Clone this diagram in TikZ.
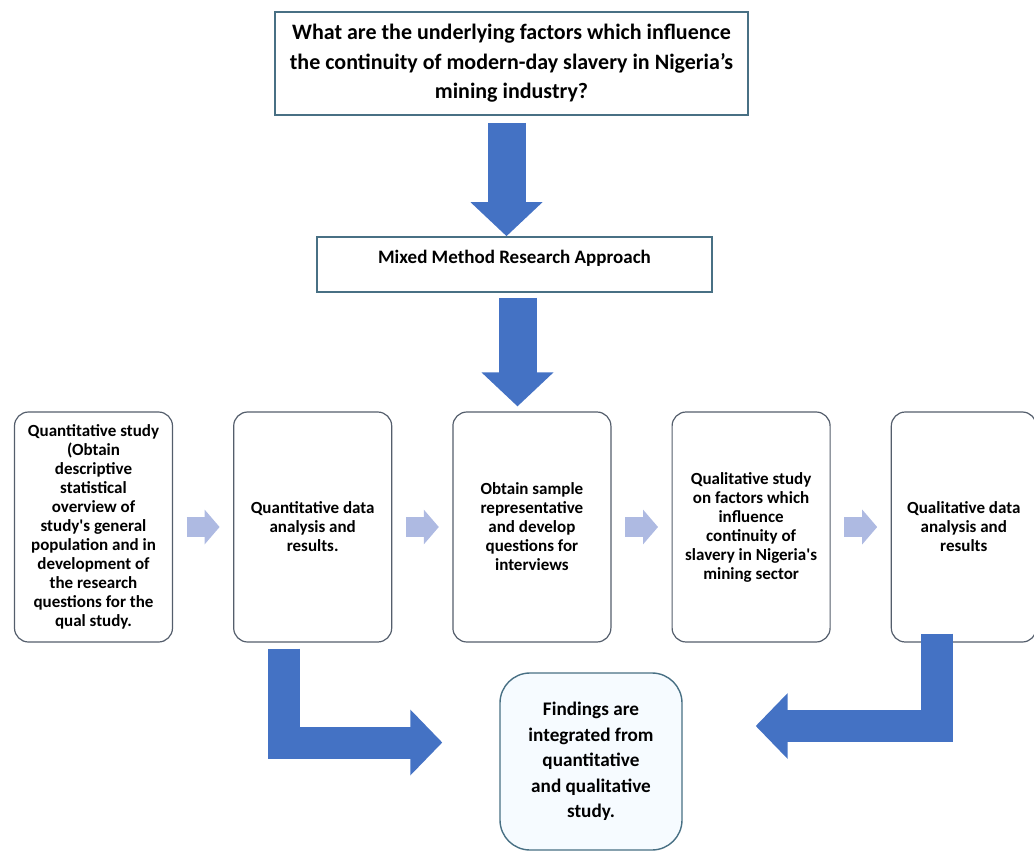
\documentclass[tikz,border=0pt]{standalone}
\usepackage{fontspec}
\setmainfont{Carlito}
\usetikzlibrary{positioning,arrows.meta}

\definecolor{arrowblue}{RGB}{68,114,196}
\definecolor{paleblue}{RGB}{174,186,226}
\definecolor{boxline}{RGB}{84,94,108}
\definecolor{tealline}{RGB}{72,112,132}
\definecolor{findfill}{RGB}{246,251,255}

\tikzset{
  questionbox/.style={draw=tealline, line width=0.8pt, fill=white, align=center,
    minimum width=236.5pt, minimum height=51.5pt,
    font=\fontsize{11}{14.75}\selectfont\bfseries},
  methodbox/.style={draw=tealline, line width=0.8pt, fill=white,
    minimum width=197.5pt, minimum height=27.5pt, text height=6.5pt, text depth=8pt,
    font=\fontsize{9.5}{11}\selectfont\bfseries},
  stagebox/.style={draw=boxline, line width=0.6pt, rounded corners=7pt, align=center,
    minimum width=79pt, minimum height=115pt,
    font=\fontsize{8.5}{9.5}\selectfont\bfseries},
  findbox/.style={draw=tealline, line width=0.7pt, fill=findfill, rounded corners=15pt,
    align=center, minimum width=91pt, minimum height=88.5pt,
    font=\fontsize{9.6}{12.75}\selectfont\bfseries},
  bigarrow/.style={arrowblue, line width=19pt, -{Triangle[length=17pt 0, width=35pt 0]}},
  bendarrow/.style={arrowblue, line width=16pt, -{Triangle[length=16pt 0, width=32pt 0]}},
  softarrow/.style={paleblue, line width=10pt, -{Triangle[length=7.5pt 0, width=17pt 0]},
    shorten <=6.75pt, shorten >=6.75pt}
}

\begin{document}
\begin{tikzpicture}[x=0.5pt, y=-0.5pt]
  \useasboundingbox (0,0) rectangle (1034,851);

  \node[questionbox] (question) at (511.5,63.5)
    {What are the underlying factors which influence\\the continuity of modern-day slavery in Nigeria’s\\mining industry?};
  \node[methodbox] (method) at (514.5,264.5) {Mixed Method Research Approach};

  % the five stages
  \node[stagebox] (quant) at (93.5,527) {Quantitative study\\(Obtain\\descriptive\\statistical\\overview of\\study\textquotesingle s general\\population and in\\development of\\the research\\questions for the\\qual study.};
  \node[stagebox, right=30pt of quant] (quantdata) {Quantitative data\\analysis and\\results.};
  \node[stagebox, right=30pt of quantdata] (obtain) {Obtain sample\\representative\\and develop\\questions for\\interviews};
  \node[stagebox, right=30pt of obtain] (qual) {Qualitative study\\on factors which\\influence\\continuity of\\slavery in Nigeria\textquotesingle s\\mining sector};
  \node[stagebox, right=30pt of qual, minimum width=72.5pt] (qualdata) {Qualitative data\\analysis and\\results};

  \node[findbox] (findings) at (591,761.5) {Findings are\\integrated from\\quantitative\\and qualitative\\study.};

  % arrows
  \draw[bigarrow, shorten <=3.5pt] ([xshift=-2.5pt]question.south) -- ([xshift=-2.5pt]question.south |- method.north);
  \draw[bigarrow, shorten <=2.5pt, shorten >=2.5pt] ([xshift=1.5pt]method.south) -- ([xshift=1.5pt]method.south |- obtain.north);

  \foreach \a/\b in {quant/quantdata, quantdata/obtain, obtain/qual, qual/qualdata}
    \draw[softarrow] (\a.east) -- (\b.west);

  \draw[bendarrow, shorten <=3pt, shorten >=28.5pt]
    ([xshift=-14.5pt]quantdata.south) |- ([yshift=9.5pt]findings.west);
  \draw[bendarrow, shorten >=36.5pt]
    ([xshift=-13.25pt,yshift=4.5pt]qualdata.south) |- ([yshift=17.75pt]findings.east);
\end{tikzpicture}
\end{document}
